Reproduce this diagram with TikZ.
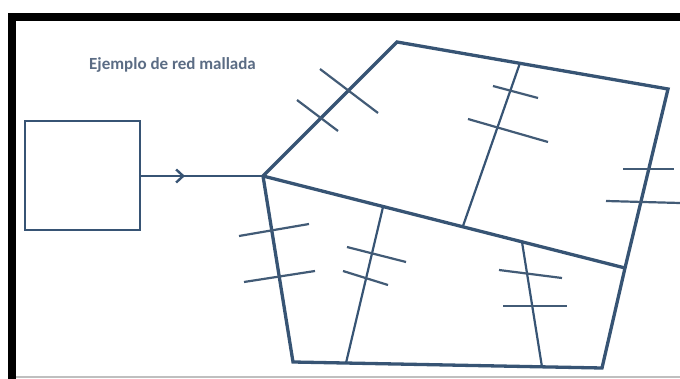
\documentclass[tikz,border=0pt]{standalone}
\usepackage{fontspec}
\setmainfont{Carlito}
\usetikzlibrary{arrows.meta,decorations.markings}
\definecolor{netblue}{HTML}{375474}
\definecolor{titlegray}{HTML}{5B6C84}
\tikzset{
  edge/.style={draw=netblue,line width=3.3pt,line join=miter},
  inner/.style={draw=netblue,line width=2.2pt},
  tick/.style={draw=netblue!85!gray,line width=2.2pt},
  framebar/.style={draw=black,line width=8pt},
  hostbox/.style={draw=netblue,line width=2pt,minimum width=115pt,minimum height=109pt,inner sep=0pt},
  midarrow/.style={postaction={decorate},decoration={markings,mark=at position 0.36 with {\arrow[netblue,line width=2.4pt]{Straight Barb[length=7pt,width=13pt]}}}}
}
\begin{document}
\begin{tikzpicture}[x=1pt,y=-1pt]
\useasboundingbox (0,0) rectangle (680,379);
% frame
\draw[draw=black!25,line width=1.5pt] (16,377) -- (680,377);
\draw[framebar] (680,17) -- (12,17) -- (12,379);
% title
\node[font=\bfseries\fontsize{17}{19}\selectfont,text=titlegray,anchor=west,inner sep=0pt] (title) at (89,65) {Ejemplo de red mallada};
% host box
\node[hostbox] (box) at (82.5,175.5) {};
% vertices
\coordinate (H) at (263,176);
\coordinate (A) at (397,42);
\coordinate (B) at (668,89);
\coordinate (C) at (625,268);
\coordinate (D) at (602,368);
\coordinate (E) at (293,362);
% inner points
\coordinate (T1) at (520,63);
\coordinate (T2) at (463,226);
\coordinate (L1) at (383,207);
\coordinate (L2) at (346,363);
\coordinate (R1) at (522,242);
\coordinate (R2) at (542,367);
% connector
\draw[netblue,line width=2.8pt,midarrow] (box.east |- H) -- (H);
% polygon
\draw[edge] (H) -- (A) -- (B) -- (C) -- (D) -- (E) -- cycle;
\draw[edge] (H) -- (C);
% inner links
\draw[inner] (T1) -- (T2);
\draw[inner] (L1) -- (L2);
\draw[inner] (R1) -- (R2);
% ticks
\draw[tick] (320,69) -- (378,113);
\draw[tick] (297,100) -- (338,131);
\draw[tick] (493,86) -- (538,98);
\draw[tick] (468,119) -- (548,142);
\draw[tick] (623,169) -- (674,169);
\draw[tick] (606,201) -- (680,203);
\draw[tick] (239,236) -- (309,224);
\draw[tick] (244,282) -- (315,271);
\draw[tick] (347,247) -- (406,262);
\draw[tick] (343,271) -- (388,285);
\draw[tick] (499,270) -- (562,278);
\draw[tick] (503,306) -- (567,306);
\end{tikzpicture}
\end{document}
